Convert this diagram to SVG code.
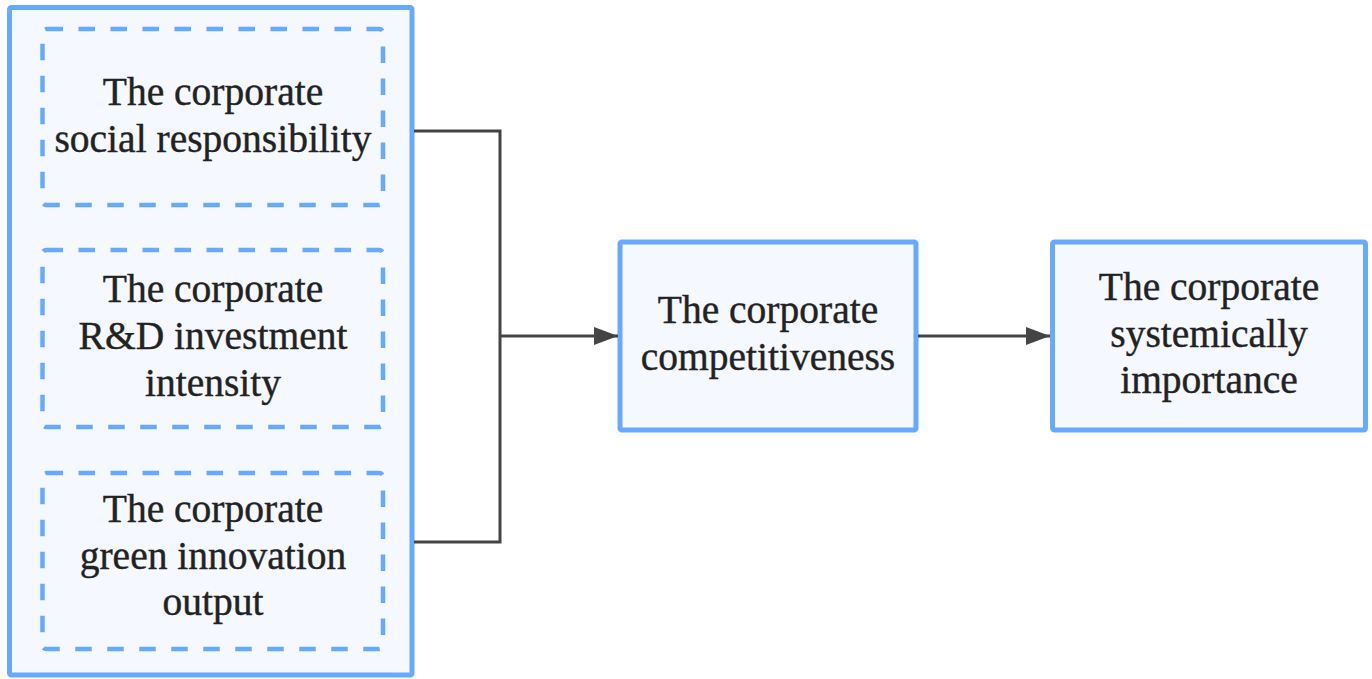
<svg xmlns="http://www.w3.org/2000/svg" width="1372" height="679" viewBox="0 0 1372 679">
<style>
.box{fill:#f5f8ff;stroke:#66aaff;stroke-width:5}
.dash{fill:none;stroke:#66aaff;stroke-width:4.5;stroke-dasharray:16.5 15.5}
.t{font-family:"Liberation Serif","Times New Roman",serif;font-size:39.5px;fill:#222;stroke:#222;stroke-width:0.4;text-anchor:middle}
.c{fill:none;stroke:#444;stroke-width:3}
</style>
<defs>
<marker id="ah" markerWidth="8" markerHeight="6" refX="8" refY="3" orient="auto" markerUnits="strokeWidth">
<path d="M0,0 L8,3 L0,6 z" fill="#444"/>
</marker>
</defs>
<rect width="1372" height="679" fill="#fff"/>
<g id="group-left">
<rect class="box" x="9.5" y="7.5" width="402.5" height="667.5" rx="2"/>
</g>
<g id="node-csr">
<rect class="dash" x="42.5" y="29" width="340.5" height="176" rx="4"/>
<text class="t" x="213" y="105">The corporate</text>
<text class="t" x="213" y="152">social responsibility</text>
</g>
<g id="node-rd">
<rect class="dash" x="42.5" y="250" width="340.5" height="177" rx="4"/>
<text class="t" x="213" y="302">The corporate</text>
<text class="t" x="213" y="349">R&amp;D investment</text>
<text class="t" x="213" y="396">intensity</text>
</g>
<g id="node-green">
<rect class="dash" x="42.5" y="473" width="340.5" height="176" rx="4"/>
<text class="t" x="213" y="522">The corporate</text>
<text class="t" x="213" y="569">green innovation</text>
<text class="t" x="213" y="615">output</text>
</g>
<g id="node-comp">
<rect class="box" x="620" y="242" width="296" height="188" rx="2"/>
<text class="t" x="768" y="323">The corporate</text>
<text class="t" x="768" y="370">competitiveness</text>
</g>
<g id="node-sys">
<rect class="box" x="1052.5" y="242" width="313" height="188" rx="2"/>
<text class="t" x="1209" y="300">The corporate</text>
<text class="t" x="1209" y="347">systemically</text>
<text class="t" x="1209" y="393">importance</text>
</g>
<g id="connectors">
<polyline class="c" points="414,131 500,131 500,542 414,542"/>
<line class="c" x1="500" y1="336" x2="618" y2="336" marker-end="url(#ah)"/>
<line class="c" x1="918" y1="336" x2="1050" y2="336" marker-end="url(#ah)"/>
</g>
</svg>
